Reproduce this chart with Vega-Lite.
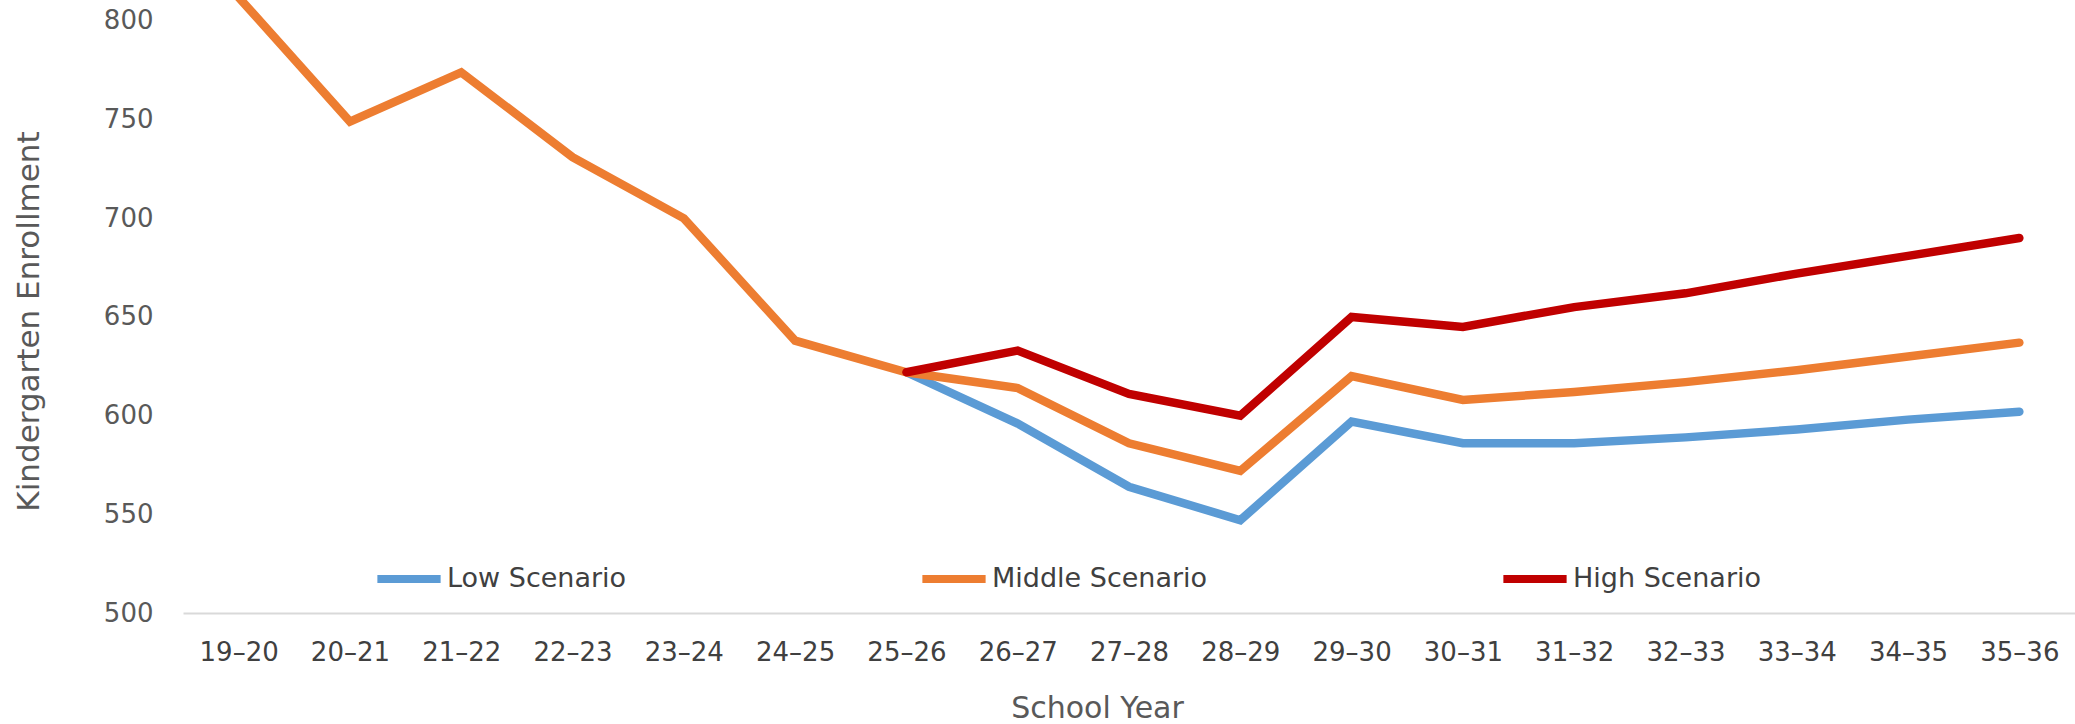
{
  "$schema": "https://vega.github.io/schema/vega-lite/v6.json",
  "width": 1892,
  "height": 613,
  "autosize": {"type": "none"},
  "padding": {"left": 183, "top": 0, "right": 0, "bottom": 111},
  "background": "white",
  "config": {"view": {"stroke": null}, "font": "DejaVu Sans"},
  "data": {
    "values": [
      {"year": "25–26", "scenario": "Low Scenario", "value": 622},
      {"year": "26–27", "scenario": "Low Scenario", "value": 596},
      {"year": "27–28", "scenario": "Low Scenario", "value": 564},
      {"year": "28–29", "scenario": "Low Scenario", "value": 547},
      {"year": "29–30", "scenario": "Low Scenario", "value": 597},
      {"year": "30–31", "scenario": "Low Scenario", "value": 586},
      {"year": "31–32", "scenario": "Low Scenario", "value": 586},
      {"year": "32–33", "scenario": "Low Scenario", "value": 589},
      {"year": "33–34", "scenario": "Low Scenario", "value": 593},
      {"year": "34–35", "scenario": "Low Scenario", "value": 598},
      {"year": "35–36", "scenario": "Low Scenario", "value": 602},
      {"year": "19–20", "scenario": "Middle Scenario", "value": 812},
      {"year": "20–21", "scenario": "Middle Scenario", "value": 749},
      {"year": "21–22", "scenario": "Middle Scenario", "value": 774},
      {"year": "22–23", "scenario": "Middle Scenario", "value": 731},
      {"year": "23–24", "scenario": "Middle Scenario", "value": 700},
      {"year": "24–25", "scenario": "Middle Scenario", "value": 638},
      {"year": "25–26", "scenario": "Middle Scenario", "value": 622},
      {"year": "26–27", "scenario": "Middle Scenario", "value": 614},
      {"year": "27–28", "scenario": "Middle Scenario", "value": 586},
      {"year": "28–29", "scenario": "Middle Scenario", "value": 572},
      {"year": "29–30", "scenario": "Middle Scenario", "value": 620},
      {"year": "30–31", "scenario": "Middle Scenario", "value": 608},
      {"year": "31–32", "scenario": "Middle Scenario", "value": 612},
      {"year": "32–33", "scenario": "Middle Scenario", "value": 617},
      {"year": "33–34", "scenario": "Middle Scenario", "value": 623},
      {"year": "34–35", "scenario": "Middle Scenario", "value": 630},
      {"year": "35–36", "scenario": "Middle Scenario", "value": 637},
      {"year": "25–26", "scenario": "High Scenario", "value": 622},
      {"year": "26–27", "scenario": "High Scenario", "value": 633},
      {"year": "27–28", "scenario": "High Scenario", "value": 611},
      {"year": "28–29", "scenario": "High Scenario", "value": 600},
      {"year": "29–30", "scenario": "High Scenario", "value": 650},
      {"year": "30–31", "scenario": "High Scenario", "value": 645},
      {"year": "31–32", "scenario": "High Scenario", "value": 655},
      {"year": "32–33", "scenario": "High Scenario", "value": 662},
      {"year": "33–34", "scenario": "High Scenario", "value": 672},
      {"year": "34–35", "scenario": "High Scenario", "value": 681},
      {"year": "35–36", "scenario": "High Scenario", "value": 690}
    ]
  },
  "mark": {"type": "line", "strokeWidth": 8.5, "strokeCap": "round", "strokeJoin": "miter", "clip": true},
  "encoding": {
    "x": {
      "field": "year",
      "type": "ordinal",
      "scale": {"type": "point", "padding": 0.5},
      "axis": {
        "domainColor": "#D9D9D9",
        "domainWidth": 2,
        "ticks": false,
        "grid": false,
        "labelAngle": 0,
        "labelBaseline": "middle",
        "labelPadding": 39,
        "labelFontSize": 26,
        "labelColor": "#404040",
        "title": "School Year",
        "titleFontSize": 30,
        "titleFontWeight": "normal",
        "titleColor": "#595959",
        "titleX": 914,
        "titleY": 95,
        "titleAlign": "center",
        "titleBaseline": "middle"
      }
    },
    "y": {
      "field": "value",
      "type": "quantitative",
      "scale": {"domain": [500, 810.64], "nice": false, "zero": false},
      "axis": {
        "values": [500, 550, 600, 650, 700, 750, 800],
        "domain": false,
        "ticks": false,
        "grid": false,
        "labelPadding": 30,
        "labelFontSize": 26,
        "labelColor": "#595959",
        "title": "Kindergarten Enrollment",
        "titleFontSize": 31,
        "titleFontWeight": "normal",
        "titleColor": "#595959",
        "titleX": -154,
        "titleY": 321,
        "titleAngle": -90,
        "titleAlign": "center",
        "titleBaseline": "middle"
      }
    },
    "color": {
      "field": "scenario",
      "type": "nominal",
      "scale": {
        "domain": ["Low Scenario", "Middle Scenario", "High Scenario"],
        "range": ["#5B9BD5", "#ED7D31", "#C00000"]
      },
      "legend": {
        "orient": "none",
        "legendX": 190,
        "legendY": 543,
        "direction": "horizontal",
        "title": null,
        "symbolType": "stroke",
        "symbolSize": 4000,
        "symbolStrokeWidth": 8,
        "labelFontSize": 27,
        "labelLimit": 500,
        "labelColor": "#404040",
        "labelOffset": 2,
        "columnPadding": 279
      }
    }
  }
}
